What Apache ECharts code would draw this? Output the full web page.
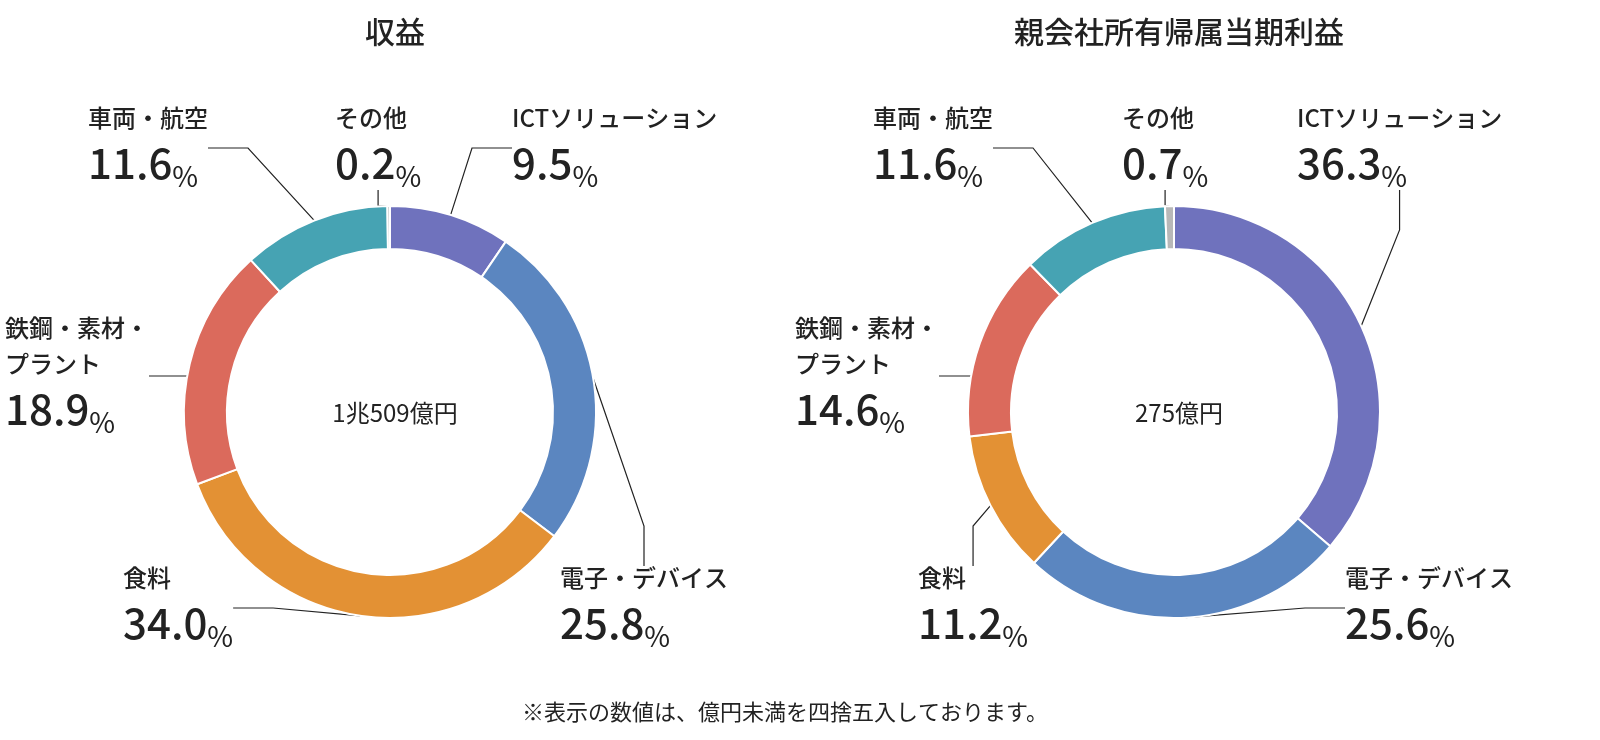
<!DOCTYPE html>
<html><head><meta charset="utf-8">
<script src="https://cdn.jsdelivr.net/npm/echarts@6/dist/echarts.min.js"></script>
<style>html,body{margin:0;background:#fff}#c{width:1600px;height:740px}</style>
</head><body><div id="c"></div>
<script>
const categories = ['ICTソリューション','電子・デバイス','食料','鉄鋼・素材・\nプラント','車両・航空','その他'];
const revenueValues = [9.5,25.8,34.0,18.9,11.6,0.2];
const profitValues = [36.3,25.6,11.2,14.6,11.6,0.7];
const colors = ['#6f72bd','#5b86c0','#e39134','#db6a5c','#46a3b3','#b8b8b8'];
const titles = ['収益','親会社所有帰属当期利益'];
const centerTexts = ['1兆509億円','275億円'];
const FONT = '"Noto Sans CJK JP"';
const leftPos = [[512,100],[560,560],[123,560],[5,310],[88,100],[335,100]];
const rightPos = [[1297,100],[1345,560],[918,560],[795,310],[873,100],[1122,100]];
function mk(vals, center, pos){
  return {
    type:'pie', radius:[163,206], center:center, startAngle:90, clockwise:true,
    avoidLabelOverlap:false,
    data: vals.map((v,i)=>({name:categories[i], value:v, itemStyle:{color:colors[i]}})),
    itemStyle:{borderColor:'#fff',borderWidth:2},
    label:{show:true, formatter:p=>'{n|'+p.name+'}\n{v|'+p.value.toFixed(1)+'}{p|%}',
      rich:{n:{fontSize:24,fontWeight:500,color:'#222',lineHeight:36,fontFamily:FONT},
            v:{fontSize:42,fontWeight:500,color:'#222',lineHeight:54,fontFamily:FONT},
            p:{fontSize:28,color:'#222',lineHeight:54,verticalAlign:'bottom',fontFamily:FONT}}},
    labelLine:{show:true,length:20,length2:40,lineStyle:{color:'#222',width:1.2}},
    labelLayout:p=>({x:pos[p.dataIndex][0], y:pos[p.dataIndex][1], align:'left', verticalAlign:'top'}),
    emphasis:{disabled:true}
  };
}
const chart = echarts.init(document.getElementById('c'));
chart.setOption({
  animation:false,
  textStyle:{fontFamily:FONT},
  title:[
    {text:titles[0],left:390,top:12,textAlign:'center',textStyle:{fontSize:30,fontWeight:500,color:'#222',fontFamily:FONT}},
    {text:titles[1],left:1174,top:12,textAlign:'center',textStyle:{fontSize:30,fontWeight:500,color:'#222',fontFamily:FONT}},
    {text:centerTexts[0],left:390,top:396,textAlign:'center',textStyle:{fontSize:24,fontWeight:400,color:'#222',fontFamily:FONT}},
    {text:centerTexts[1],left:1174,top:396,textAlign:'center',textStyle:{fontSize:24,fontWeight:400,color:'#222',fontFamily:FONT}},
    {text:'※表示の数値は、億円未満を四捨五入しております。',left:780,top:696,textAlign:'center',textStyle:{fontSize:22,fontWeight:400,color:'#222',fontFamily:FONT}}
  ],
  series:[mk(revenueValues,[390,412],leftPos), mk(profitValues,[1174,412],rightPos)]
});
</script></body></html>
